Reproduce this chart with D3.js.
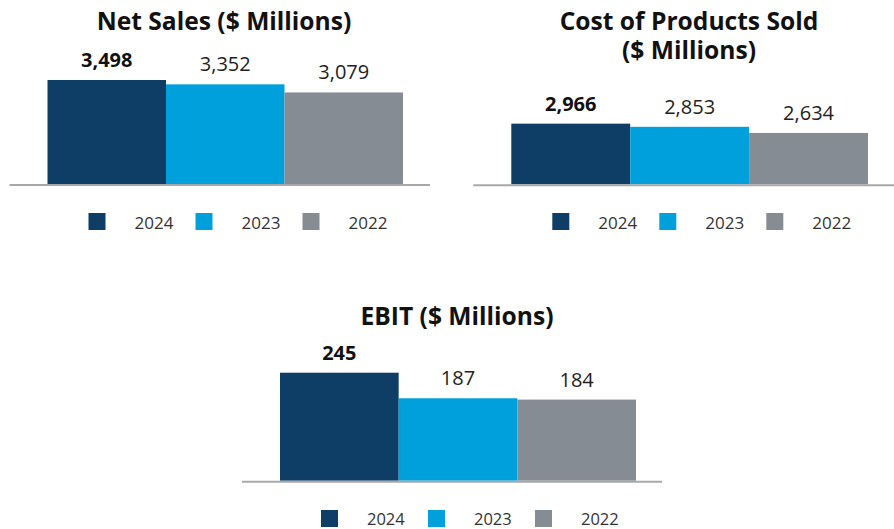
<!DOCTYPE html>
<html>
<head>
<meta charset="utf-8">
<script src="https://cdn.jsdelivr.net/npm/d3@7"></script>
<style>
  html, body { margin: 0; padding: 0; background: #fff; }
  svg { display: block; font-family: "Open Sans", "Noto Sans", sans-serif; }
</style>
</head>
<body>
<svg id="chart" width="894" height="529"></svg>
<script>
// ---- Data ----
const years = ["2024", "2023", "2022"];
const netSales = [3498, 3352, 3079];
const costOfProducts = [2966, 2853, 2634];
const ebit = [245, 187, 184];
const titleNetSales = ["Net Sales ($ Millions)"];
const titleCost = ["Cost of Products Sold", "($ Millions)"];
const titleEbit = ["EBIT ($ Millions)"];

const colors = d3.scaleOrdinal().domain(years).range(["#0e3e66", "#00a0dc", "#868c94"]);

const svg = d3.select("#chart");

function drawPanel(cfg) {
  const g = svg.append("g");
  const x = d3.scaleBand().domain(years).range([cfg.x0, cfg.x1]).padding(0);
  const y = d3.scaleLinear().domain(cfg.domain).range([cfg.base, cfg.top]);
  const data = years.map((yr, i) => ({ year: yr, value: cfg.values[i] }));

  // title (single text element, one tspan per line)
  const t = g.append("text")
    .attr("class", "title")
    .attr("x", cfg.titleX)
    .attr("y", cfg.titleY)
    .attr("text-anchor", "middle")
    .attr("font-size", 24.6)
    .attr("font-weight", 700)
    .attr("fill", "#111");
  t.selectAll("tspan").data(cfg.title).enter().append("tspan")
    .attr("x", cfg.titleX)
    .attr("dy", (d, i) => i === 0 ? 0 : 29)
    .text(d => d);

  // bars
  g.selectAll("rect.bar").data(data).enter().append("rect")
    .attr("class", "bar")
    .attr("x", d => x(d.year))
    .attr("width", x.bandwidth())
    .attr("y", d => y(d.value))
    .attr("height", d => cfg.base - y(d.value))
    .attr("fill", d => colors(d.year));

  // axis line
  g.append("line")
    .attr("x1", cfg.x0 - 38).attr("x2", cfg.axisEnd)
    .attr("y1", cfg.base + 1).attr("y2", cfg.base + 1)
    .attr("stroke", "#a8a8a8").attr("stroke-width", 2);

  // value labels
  g.selectAll("text.val").data(data).enter().append("text")
    .attr("class", "val")
    .attr("x", d => x(d.year) + x.bandwidth() / 2)
    .attr("y", d => y(d.value) - 13)
    .attr("text-anchor", "middle")
    .attr("font-size", 20)
    .attr("font-weight", (d, i) => i === 0 ? 700 : 400)
    .attr("fill", (d, i) => i === 0 ? "#111" : "#222")
    .text(d => d3.format(",")(d.value));

  // legend
  const lg = g.append("g");
  years.forEach((yr, i) => {
    const lx = cfg.x0 + 41 + i * 107;
    lg.append("rect")
      .attr("x", lx).attr("y", cfg.legendY)
      .attr("width", 17).attr("height", 17)
      .attr("fill", colors(yr));
    lg.append("text")
      .attr("x", lx + 46).attr("y", cfg.legendY + cfg.legendDy)
      .attr("font-size", cfg.legendSize)
      .attr("fill", "#333")
      .text(yr);
  });
}

drawPanel({
  title: titleNetSales, titleX: 224, titleY: 30,
  values: netSales, x0: 47.5, x1: 403, axisEnd: 430,
  base: 184, domain: [0, 3500], top: 184 - 3500 * 0.02973,
  legendY: 213, legendDy: 16, legendSize: 17
});

drawPanel({
  title: titleCost, titleX: 689, titleY: 30,
  values: costOfProducts, x0: 511.3, x1: 868, axisEnd: 894,
  base: 184.3, domain: [800, 3000], top: 184.3 - 2200 * 0.028,
  legendY: 213, legendDy: 16, legendSize: 17
});

drawPanel({
  title: titleEbit, titleX: 457, titleY: 325,
  values: ebit, x0: 280, x1: 636, axisEnd: 662,
  base: 480.7, domain: [0, 250], top: 480.7 - 250 * 0.4408,
  legendY: 510, legendDy: 14.5, legendSize: 16.5
});
</script>
</body>
</html>
